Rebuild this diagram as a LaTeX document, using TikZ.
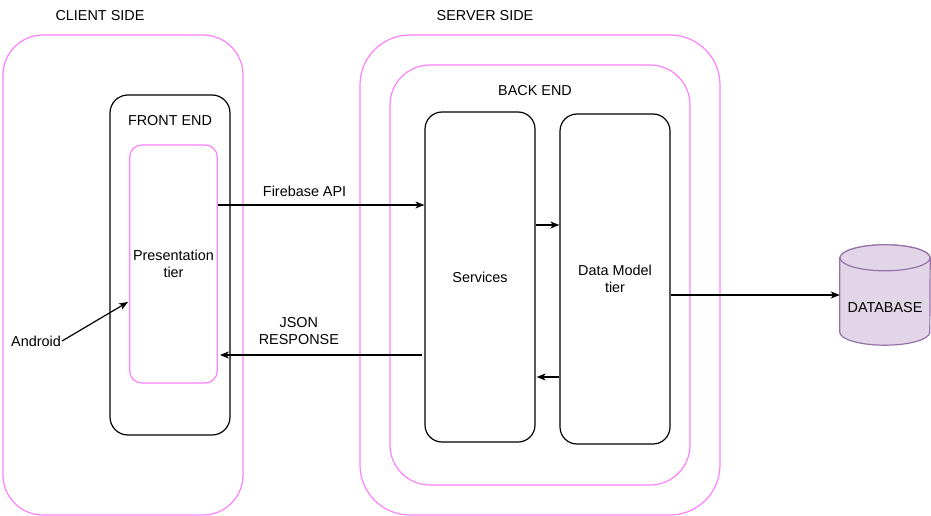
\documentclass[tikz,border=0pt]{standalone}
\usepackage{fontspec}
\setmainfont{Liberation Sans}
\usetikzlibrary{arrows.meta, positioning, calc}
\definecolor{zonepink}{RGB}{255,128,255}
\definecolor{dbfill}{RGB}{225,213,231}
\definecolor{dbline}{RGB}{150,115,166}

\begin{document}
\begin{tikzpicture}[x=1pt, y=-1pt,
  font=\fontsize{14.4}{16.5}\selectfont,
  zone/.style={draw=zonepink, line width=1.2pt, rounded corners=#1},
  tier/.style={draw, line width=1.2pt, rounded corners=17pt, minimum width=110, minimum height=330, align=center},
  lbl/.style={inner sep=1pt, align=center},
  dbshape/.style={draw=dbline, fill=dbfill, line width=1.2pt},
  arr/.style={-{Stealth[length=9pt, width=7pt, inset=2.5pt]}, line width=1.2pt}
]
  \useasboundingbox (0,0) rectangle (931,516);

  % client side
  \node[zone=40pt, minimum width=240, minimum height=480] (client) at (123,275) {};
  \node[lbl] (clientlbl) at (100,16) {CLIENT SIDE};
  \node[draw, line width=1.2pt, rounded corners=18pt, minimum width=120, minimum height=340] (frontend) at (170,265) {};
  \node[lbl] (frontlbl) at (170,121) {FRONT END};
  \node[zone=12pt, minimum width=87, minimum height=238, align=center] (pres) at (173.5,264) {Presentation\\tier};
  \node[lbl] (android) at (36,341) {Android};
  \coordinate (andin) at (128,302);

  % server side
  \node[zone=50pt, minimum width=360, minimum height=480] (server) at (540,275) {};
  \node[lbl] (serverlbl) at (485,16) {SERVER SIDE};
  \node[zone=40pt, minimum width=300, minimum height=420] (backend) at (540,275) {};
  \node[lbl] (backlbl) at (535,91) {BACK END};
  \node[tier] (services) at (480,277) {Services};
  \node[tier] (datamodel) at (615,279) {Data Model\\tier};

  % database
  \node[minimum width=90, minimum height=100, inner sep=0pt] (db) at (885,295) {};
  \draw[dbshape] ($(db.north west)+(0,13)$) -- ($(db.south west)+(0,-13)$)
    arc[start angle=180, end angle=0, x radius=45, y radius=13]
    -- ($(db.north east)+(0,13)$)
    arc[start angle=0, end angle=-180, x radius=45, y radius=13] -- cycle;
  \draw[dbshape] ($(db.north)+(0,13)$) ellipse[x radius=45, y radius=13];
  \node[lbl] (dblbl) at ($(db.center)+(0,13)$) {DATABASE};

  % connectors
  \coordinate (fbstart) at ($(pres.east)+(0,-59)$);
  \draw[arr] (fbstart) -- node[pos=0.42, above=7pt, lbl] {Firebase API} (fbstart -| services.west);
  \coordinate (jsstart) at ($(services.west)+(-2,78)$);
  \draw[arr] (jsstart) -- node[pos=0.61, above=9pt, lbl] {JSON\\RESPONSE} ($(jsstart -| pres.east)+(2,0)$);
  \coordinate (reqstart) at ($(services.east)+(0,-52)$);
  \draw[arr] (reqstart) -- (reqstart -| datamodel.west);
  \coordinate (resstart) at ($(datamodel.west)+(0,98)$);
  \draw[arr] (resstart) -- ($(resstart -| services.east)+(1,0)$);
  \draw[arr] ($(datamodel.east)+(0,16)$) -- (db.west);
  \draw[arr] (android.east) -- (andin);
\end{tikzpicture}
\end{document}
